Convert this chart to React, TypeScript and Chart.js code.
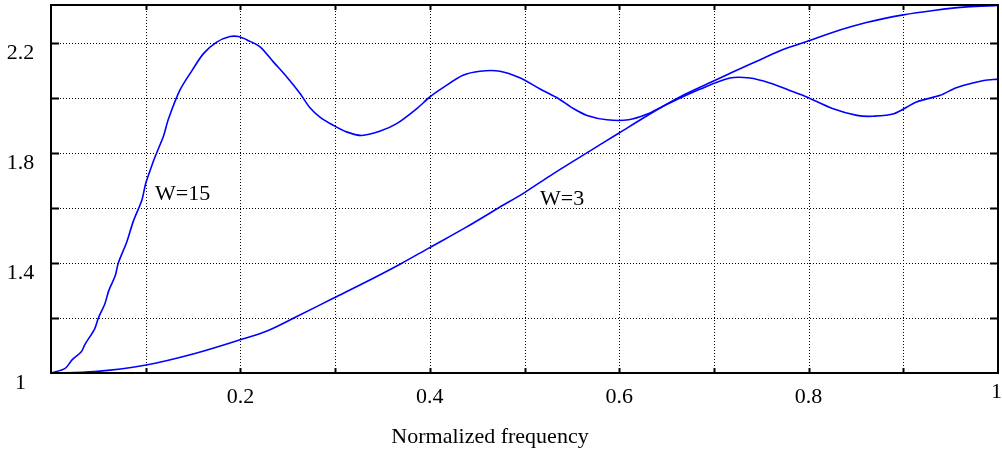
import React, { useEffect, useRef } from "react";
import { Chart, registerables } from "chart.js";

Chart.register(...registerables);

// W=15 curve
const freq15 = [0, 0.015, 0.022, 0.032, 0.036, 0.046, 0.05, 0.057, 0.061, 0.068, 0.071, 0.08, 0.087, 0.096, 0.1, 0.108, 0.112, 0.119, 0.124, 0.136, 0.149, 0.161, 0.175, 0.189, 0.198, 0.208, 0.221, 0.235, 0.249, 0.263, 0.273, 0.284, 0.298, 0.312, 0.328, 0.347, 0.365, 0.386, 0.4, 0.414, 0.435, 0.453, 0.474, 0.495, 0.516, 0.534, 0.552, 0.566, 0.587, 0.61, 0.629, 0.65, 0.685, 0.717, 0.738, 0.759, 0.78, 0.798, 0.826, 0.851, 0.868, 0.89, 0.914, 0.939, 0.956, 0.985, 1.0];
const gain15 = [1.0, 1.017, 1.047, 1.077, 1.105, 1.16, 1.2, 1.253, 1.3, 1.356, 1.4, 1.477, 1.553, 1.63, 1.69, 1.77, 1.805, 1.865, 1.925, 2.029, 2.102, 2.163, 2.205, 2.225, 2.225, 2.211, 2.187, 2.132, 2.078, 2.018, 1.968, 1.932, 1.902, 1.878, 1.865, 1.88, 1.908, 1.962, 2.005, 2.039, 2.084, 2.099, 2.099, 2.075, 2.035, 2.003, 1.962, 1.938, 1.922, 1.922, 1.942, 1.978, 2.033, 2.074, 2.074, 2.056, 2.029, 2.005, 1.962, 1.938, 1.935, 1.944, 1.987, 2.011, 2.039, 2.065, 2.07];

// W=3 curve
const freq3 = [0, 0.046, 0.099, 0.152, 0.198, 0.228, 0.258, 0.298, 0.333, 0.369, 0.398, 0.439, 0.472, 0.5, 0.527, 0.559, 0.599, 0.629, 0.664, 0.699, 0.72, 0.749, 0.773, 0.798, 0.826, 0.861, 0.9, 0.932, 0.967, 1.0];
const gain3 = [1.0, 1.005, 1.028, 1.071, 1.119, 1.153, 1.203, 1.272, 1.332, 1.397, 1.453, 1.532, 1.6, 1.657, 1.718, 1.787, 1.872, 1.936, 2.005, 2.062, 2.096, 2.141, 2.178, 2.207, 2.241, 2.276, 2.304, 2.32, 2.333, 2.338];

const xGrid = [0.1, 0.2, 0.3, 0.4, 0.5, 0.6, 0.7, 0.8, 0.9];
const yGrid = [1.2, 1.4, 1.6, 1.8, 2.0, 2.2];
const xTickLabels = ["0.2", "0.4", "0.6", "0.8", "1"];
const yTickLabels = ["1", "1.4", "1.8", "2.2"];

const curveNames = ["W=15", "W=3"];
const curveLabelX = [0.1098, 0.5164];
const curveLabelY = [1.629, 1.611];

const xTitle = "Normalized frequency";

const FONT = '22px "Liberation Serif", "Times New Roman", serif';

const overlay = {
  id: "overlay",
  beforeDatasetsDraw(chart: any) {
    const { ctx, chartArea: a, scales } = chart;
    const xs = scales.x, ys = scales.y;
    ctx.save();
    ctx.strokeStyle = "#000";
    ctx.lineWidth = 1;
    ctx.setLineDash([1, 2]);
    xGrid.forEach((v) => {
      const px = Math.round(xs.getPixelForValue(v)) + 0.5;
      ctx.beginPath();
      ctx.moveTo(px, a.top);
      ctx.lineTo(px, a.bottom);
      ctx.stroke();
    });
    yGrid.forEach((v) => {
      const py = Math.round(ys.getPixelForValue(v)) + 0.5;
      ctx.beginPath();
      ctx.moveTo(a.left, py);
      ctx.lineTo(a.right, py);
      ctx.stroke();
    });
    ctx.restore();
  },
  afterDatasetsDraw(chart: any) {
    const { ctx, chartArea: a, scales } = chart;
    const xs = scales.x, ys = scales.y;
    ctx.save();
    ctx.setLineDash([]);
    ctx.strokeStyle = "#000";
    ctx.lineWidth = 2;
    yGrid.forEach((v) => {
      const py = Math.round(ys.getPixelForValue(v)) + 0.5;
      ctx.beginPath();
      ctx.moveTo(a.left, py);
      ctx.lineTo(a.left + 8, py);
      ctx.moveTo(a.right, py);
      ctx.lineTo(a.right - 8, py);
      ctx.stroke();
    });
    xGrid.forEach((v) => {
      const px = Math.round(xs.getPixelForValue(v)) + 0.5;
      ctx.beginPath();
      ctx.moveTo(px, a.bottom);
      ctx.lineTo(px, a.bottom - 5);
      ctx.moveTo(px, a.top);
      ctx.lineTo(px, a.top + 5);
      ctx.stroke();
    });
    ctx.lineWidth = 2;
    ctx.strokeRect(a.left, a.top, a.right - a.left, a.bottom - a.top);

    ctx.fillStyle = "#000";
    ctx.font = FONT;
    ctx.textBaseline = "alphabetic";
    ctx.textAlign = "center";
    yTickLabels.forEach((t) => {
      const py = ys.getPixelForValue(parseFloat(t));
      ctx.fillText(t, 20.5, py + 16);
    });
    xTickLabels.forEach((t) => {
      const v = parseFloat(t);
      const px = xs.getPixelForValue(v);
      if (v >= 1) {
        ctx.textAlign = "right";
        ctx.fillText(t, chart.width, 398);
        ctx.textAlign = "center";
      } else {
        ctx.fillText(t, px, 403);
      }
    });
    ctx.fillText(xTitle, 490, 443);
    ctx.textAlign = "left";
    curveNames.forEach((n, i) => {
      ctx.fillText(n, xs.getPixelForValue(curveLabelX[i]), ys.getPixelForValue(curveLabelY[i]));
    });
    ctx.restore();
  },
};

export default function App() {
  const ref = useRef<HTMLCanvasElement>(null);
  useEffect(() => {
    document.body.style.margin = "0";
    const canvas = ref.current!;
    const chart = new Chart(canvas, {
      type: "line",
      data: {
        datasets: [
          {
            label: curveNames[0],
            data: freq15.map((x, i) => ({ x, y: gain15[i] })),
            borderColor: "#0000ff",
            borderWidth: 1.6,
            pointRadius: 0,
            tension: 0.3,
            fill: false,
          },
          {
            label: curveNames[1],
            data: freq3.map((x, i) => ({ x, y: gain3[i] })),
            borderColor: "#0000ff",
            borderWidth: 1.6,
            pointRadius: 0,
            cubicInterpolationMode: "monotone",
            fill: false,
          },
        ],
      },
      options: {
        animation: false,
        responsive: false,
        devicePixelRatio: 1,
        layout: { padding: { left: 51, right: 4, top: 5, bottom: 80 } },
        plugins: { legend: { display: false }, tooltip: { enabled: false } },
        scales: {
          x: { type: "linear", min: 0, max: 1, display: false },
          y: { type: "linear", min: 1, max: 2.34, display: false },
        },
      },
      plugins: [overlay],
    });
    return () => chart.destroy();
  }, []);
  return (
    <div style={{ width: 1002, height: 453, background: "#fff" }}>
      <canvas ref={ref} width={1002} height={453} style={{ display: "block" }} />
    </div>
  );
}
